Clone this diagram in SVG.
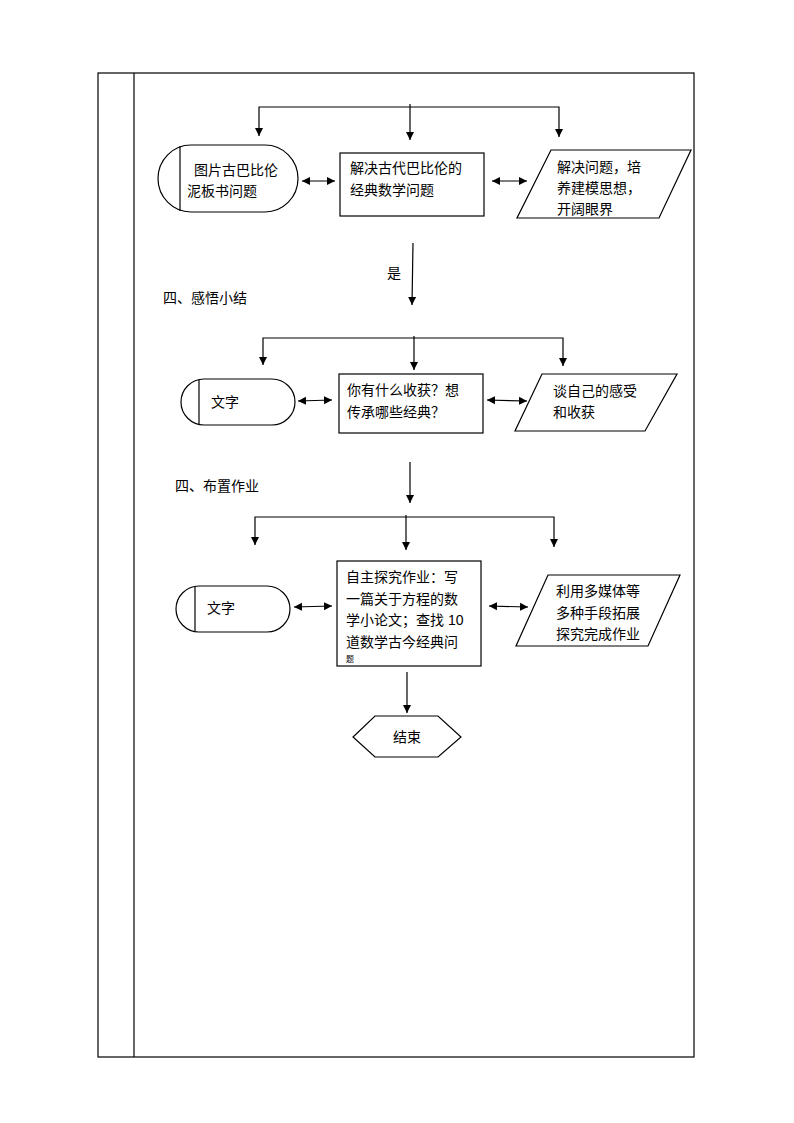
<svg xmlns="http://www.w3.org/2000/svg" width="794" height="1123" viewBox="0 0 794 1123">
<style>
.frame{fill:none;stroke:#000;stroke-width:1.2}
.shape{fill:#fff;stroke:#000;stroke-width:1.2}
.ln{fill:none;stroke:#000;stroke-width:1.2}
text{font-family:"Liberation Sans","Noto Sans CJK SC",sans-serif;font-size:14px;fill:#000}
</style>
<defs>
<marker id="ah" viewBox="0 0 8 10" refX="8" refY="5" markerWidth="8" markerHeight="10" markerUnits="userSpaceOnUse" orient="auto-start-reverse">
<path d="M0,1 L8,5 L0,9 Z" fill="#000"/>
</marker>
</defs>
<rect width="794" height="1123" fill="#fff"/>
<g id="table">
<rect class="frame" x="98" y="73" width="596" height="984"/>
<line class="frame" x1="134" y1="73" x2="134" y2="1057"/>
</g>
<g id="connectors">
<!-- section 1 -->
<polyline class="ln" points="259,136 259,107 559,107 559,137" marker-start="url(#ah)" marker-end="url(#ah)"/>
<line class="ln" x1="410" y1="104" x2="410" y2="140" marker-end="url(#ah)"/>
<line class="ln" x1="302" y1="181" x2="335" y2="181" marker-start="url(#ah)" marker-end="url(#ah)"/>
<line class="ln" x1="492" y1="181" x2="527" y2="181" marker-start="url(#ah)" marker-end="url(#ah)"/>
<line class="ln" x1="413" y1="243" x2="412" y2="305" marker-end="url(#ah)"/>
<!-- section 2 -->
<polyline class="ln" points="263,365 263,338 563,338 563,366" marker-start="url(#ah)" marker-end="url(#ah)"/>
<line class="ln" x1="414" y1="336" x2="414" y2="370" marker-end="url(#ah)"/>
<line class="ln" x1="298" y1="401" x2="332" y2="400" marker-start="url(#ah)" marker-end="url(#ah)"/>
<line class="ln" x1="487" y1="400" x2="527" y2="401" marker-start="url(#ah)" marker-end="url(#ah)"/>
<line class="ln" x1="410" y1="462" x2="410" y2="503" marker-end="url(#ah)"/>
<!-- section 3 -->
<polyline class="ln" points="255,545 255,517 554,517 554,547" marker-start="url(#ah)" marker-end="url(#ah)"/>
<line class="ln" x1="406" y1="515" x2="406" y2="550" marker-end="url(#ah)"/>
<line class="ln" x1="294" y1="607" x2="332" y2="606" marker-start="url(#ah)" marker-end="url(#ah)"/>
<line class="ln" x1="489" y1="606" x2="528" y2="607" marker-start="url(#ah)" marker-end="url(#ah)"/>
<line class="ln" x1="407" y1="672" x2="407" y2="713" marker-end="url(#ah)"/>
</g>
<g id="n1">
<path class="shape" d="M191,145 H265 A33,33.5 0 0 1 265,212 H191 A33,33.5 0 0 1 191,145 Z"/>
<line class="ln" x1="180" y1="146" x2="180" y2="211"/>
<text x="194" y="175">图片古巴比伦</text>
<text x="187" y="196">泥板书问题</text>
</g>
<g id="n2">
<rect class="shape" x="340" y="153" width="144" height="63"/>
<text x="350" y="173">解决古代巴比伦的</text>
<text x="350" y="195">经典数学问题</text>
</g>
<g id="n3">
<polygon class="shape" points="551,150 691,150 659,218 517,218"/>
<text x="557" y="172">解决问题，培</text>
<text x="557" y="193">养建模思想，</text>
<text x="557" y="214">开阔眼界</text>
</g>
<g id="lbl1">
<text x="387" y="278">是</text>
<text x="163" y="303">四、感悟小结</text>
</g>
<g id="n4">
<path class="shape" d="M204,379 H272 A23,23 0 0 1 272,425 H204 A23,23 0 0 1 204,379 Z"/>
<line class="ln" x1="199" y1="380" x2="199" y2="424"/>
<text x="211" y="407">文字</text>
</g>
<g id="n5">
<rect class="shape" x="339" y="374" width="144" height="59"/>
<text x="347" y="395">你有什么收获？想</text>
<text x="347" y="417">传承哪些经典？</text>
</g>
<g id="n6">
<polygon class="shape" points="542,374 677,374 645,431 515,431"/>
<text x="553" y="396">谈自己的感受</text>
<text x="553" y="417">和收获</text>
</g>
<g id="lbl2">
<text x="175" y="491">四、布置作业</text>
</g>
<g id="n7">
<path class="shape" d="M199,586 H267 A23,23 0 0 1 267,632 H199 A23,23 0 0 1 199,586 Z"/>
<line class="ln" x1="195" y1="587" x2="195" y2="631"/>
<text x="207" y="613">文字</text>
</g>
<g id="n8">
<rect class="shape" x="337" y="561" width="144" height="105"/>
<text x="346" y="582">自主探究作业：写</text>
<text x="346" y="604">一篇关于方程的数</text>
<text x="346" y="625">学小论文；查找 10</text>
<text x="346" y="647">道数学古今经典问</text>
<text x="346" y="662" style="font-size:8px">题</text>
</g>
<g id="n9">
<polygon class="shape" points="548,575 680,575 648,646 516,646"/>
<text x="556" y="596">利用多媒体等</text>
<text x="556" y="618">多种手段拓展</text>
<text x="556" y="639">探究完成作业</text>
</g>
<g id="n10">
<polygon class="shape" points="375,716 438,716 461,737 438,757 375,757 353,737"/>
<text x="407" y="742" text-anchor="middle">结束</text>
</g>
</svg>
